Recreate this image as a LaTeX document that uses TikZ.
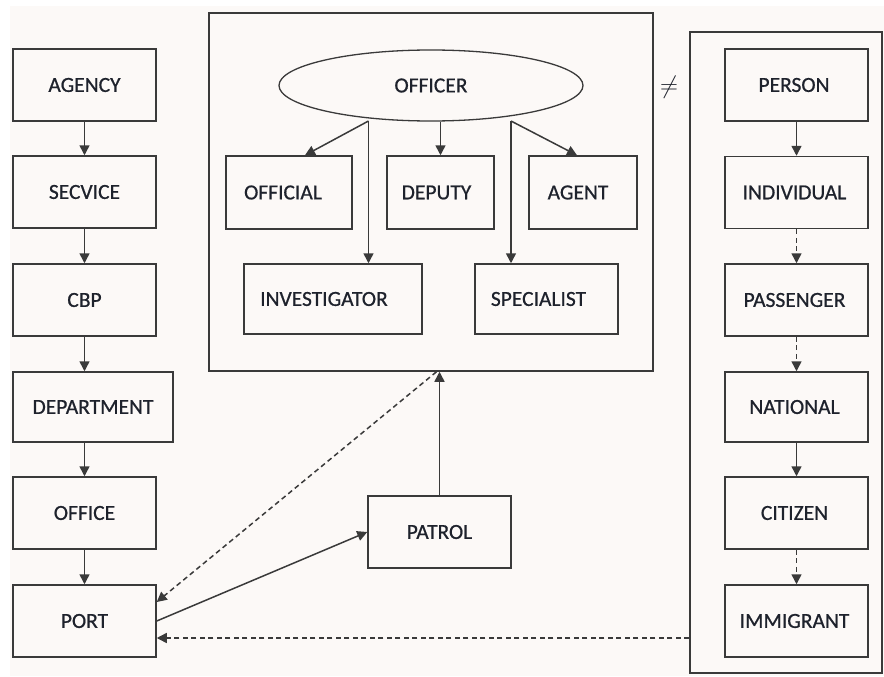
\documentclass[tikz,border=0pt]{standalone}
\usepackage{fontspec}
\setmainfont{Carlito}
\newfontfamily\lblfont[FakeBold=0.7]{Carlito}
\usetikzlibrary{arrows.meta,shapes.geometric}
\definecolor{bgc}{RGB}{252,249,247}
\definecolor{linec}{RGB}{58,58,58}
\definecolor{textc}{RGB}{30,34,44}
\newcommand{\lsh}[2]{#2\hspace*{#1pt}}
\tikzset{
  lbl/.style={text=textc, font=\lblfont\fontsize{21.5}{23}\selectfont},
  box/.style={draw=linec, line width=1.5pt, rectangle, inner sep=0pt,
    minimum width=143pt, minimum height=72pt, lbl},
  bigbox/.style={draw=linec, line width=1.5pt, rectangle, inner sep=0pt},
  conn/.style={draw=linec, line width=1.5pt, -{Triangle[length=10pt,width=10pt]}},
  dconn/.style={conn, dash pattern=on 5pt off 3.5pt}
}
\begin{document}
\begin{tikzpicture}[x=1pt,y=-1pt]
\useasboundingbox (0,0) rectangle (884,677);
\fill[white] (0,0) rectangle (884,677);
\fill[bgc] (10,6) rectangle (884,676);

% containers
\node[bigbox, minimum width=444pt, minimum height=358pt] (cbox) at (431,192) {};
\node[bigbox, minimum width=192pt, minimum height=641pt] (rbox) at (786,352.5) {};
\node[text=textc, font=\fontsize{24}{26}\selectfont] (neq) at (669,87) {$\neq$};

% left column
\node[box] (agency) at (84.5,85) {AGENCY};
\node[box] (secvice) at (84.5,192) {SECVICE};
\node[box] (cbp) at (84.5,300) {CBP};
\node[box, minimum width=160pt, minimum height=70pt] (department) at (93,407) {DEPARTMENT};
\node[box] (office) at (84.5,513) {OFFICE};
\node[box] (port) at (84.5,621) {PORT};

% right column
\node[box] (person) at (796.5,85) {\lsh{5}{PERSON}};
\node[box] (individual) at (796.5,192.5) {\lsh{4}{INDIVIDUAL}};
\node[box] (passenger) at (796.5,300) {\lsh{4}{PASSENGER}};
\node[box, minimum height=70pt] (national) at (796.5,407) {\lsh{4}{NATIONAL}};
\node[box] (citizen) at (796.5,513) {\lsh{4}{CITIZEN}};
\node[box] (immigrant) at (796.5,621) {\lsh{4}{IMMIGRANT}};

% center
\node[draw=linec, line width=1.3pt, ellipse, inner sep=0pt, minimum width=304pt,
  minimum height=71pt, lbl] (officer) at (431,85.5) {OFFICER};
\node[box, minimum width=126pt, minimum height=73pt] (official) at (289,192.5) {\lsh{12}{OFFICIAL}};
\node[box, minimum width=107pt, minimum height=73pt] (deputy) at (440.5,192.5) {\lsh{8}{DEPUTY}};
\node[box, minimum width=108pt, minimum height=73pt] (agent) at (583,192.5) {\lsh{10}{AGENT}};
\node[box, minimum width=178pt, minimum height=70pt] (investigator) at (333,299) {\lsh{18}{INVESTIGATOR}};
\node[box, minimum width=143pt, minimum height=70pt] (specialist) at (546.5,299) {\lsh{16}{SPECIALIST}};

\node[box] (patrol) at (439.5,532) {PATROL};

% left column connectors
\draw[conn] (agency.south) -- (secvice.north);
\draw[conn] (secvice.south) -- (cbp.north);
\draw[conn] (cbp.south) -- (cbp.south |- department.north);
\draw[conn] (office.north |- department.south) -- (office.north);
\draw[conn] (office.south) -- (port.north);

% right column connectors
\draw[conn] (person.south) -- (individual.north);
\draw[dconn] (individual.south) -- (passenger.north);
\draw[dconn] (passenger.south) -- (national.north);
\draw[conn] (national.south) -- (citizen.north);
\draw[dconn] (citizen.south) -- (immigrant.north);

% officer connectors
\coordinate (oa) at (368.5,121);
\coordinate (ob) at (511,121);
\draw[conn] (oa) -- ([xshift=16pt]official.north);
\draw[conn] (oa) -- (oa |- investigator.north);
\draw[conn] (deputy.north |- officer.south) -- (deputy.north);
\draw[conn] (ob) -- (ob |- specialist.north);
\draw[conn] (ob) -- ([xshift=-6pt]agent.north);

% bottom connectors
\draw[conn] (patrol.north) -- (patrol.north |- cbox.south);
\draw[conn] (port.east) -- (patrol.west);
\coordinate (ctop) at ([xshift=-3pt]patrol.north |- cbox.south);
\draw[dconn] (ctop) -- ([yshift=19pt]port.east);
\coordinate (pd) at ([yshift=-17pt]port.east);
\draw[dconn] (rbox.west |- pd) -- (pd);
\end{tikzpicture}
\end{document}
